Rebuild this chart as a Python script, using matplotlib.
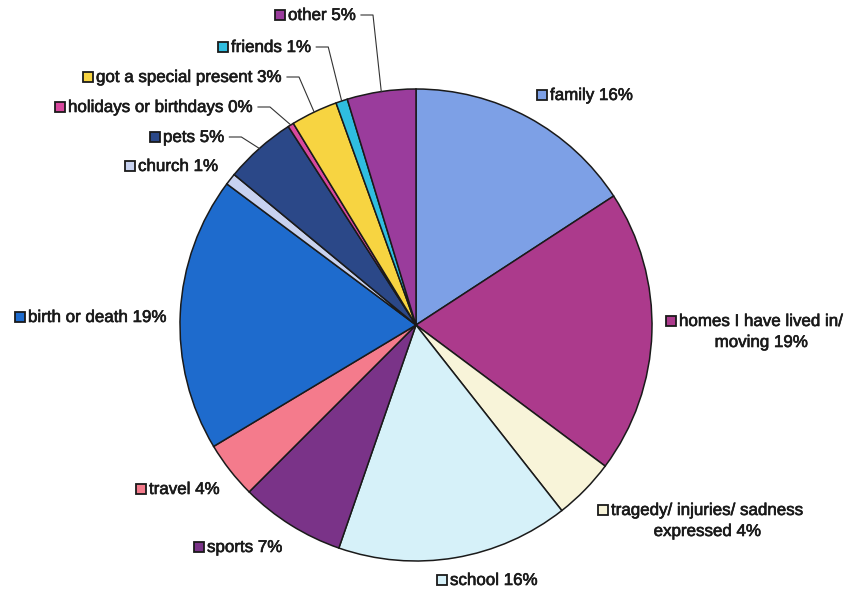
import numpy as np
import matplotlib
matplotlib.use('Agg')
import matplotlib.pyplot as plt
import matplotlib.patheffects as pe

# Topics of the stories, clockwise from 12 o'clock, share of answers in %
topics = ['family', 'homes I have lived in/\nmoving', 'tragedy/ injuries/ sadness\nexpressed',
          'school', 'sports', 'travel', 'birth or death', 'church', 'pets',
          'holidays or birthdays', 'got a special present', 'friends', 'other']
shares = [15.8, 19.4, 4.2, 15.9, 7.2, 3.9, 18.8, 0.8, 4.9, 0.4, 3.2, 0.8, 4.7]
colors = ['#7DA0E6', '#AC3A8C', '#F8F4D9', '#D6F1F9', '#7A3388', '#F47B8C', '#1E6BCD',
          '#C8D2F0', '#2B4888', '#D8489E', '#F7D441', '#2FBDE0', '#9A3C9C']

# where each label goes (pixels: left of key box, centre of first line)
label_px = [(538, 95), (667, 321), (599, 510), (438, 580), (195, 547), (137, 489),
            (16, 317), (126, 166), (151, 137), (56, 107), (84, 77), (219, 47), (276, 15)]
has_leader = [False] * 8 + [True] * 5

W, H = 849, 593
CX, CY, R = 416, 325, 236
LINE_GAP = 21


def px(x, y):
    # pixel position -> data units (pie radius = 1)
    return (x - CX) / R, (CY - y) / R


fig = plt.figure(figsize=(W / 100, H / 100), dpi=100)
ax = fig.add_axes([0, 0, 1, 1])

wedges, _ = ax.pie(shares, colors=colors, startangle=90, counterclock=False, radius=1,
                   wedgeprops=dict(edgecolor='#1a1a1a', linewidth=1.1))

# pie() sets its own limits, so fix the frame afterwards
ax.set_xlim(-CX / R, (W - CX) / R)
ax.set_ylim((CY - H) / R, CY / R)
ax.set_aspect('equal')
ax.axis('off')

font = dict(family=['Liberation Sans', 'DejaVu Sans'], size=12.2, color='#1a1a1a',
            path_effects=[pe.withStroke(linewidth=0.45, foreground='#1a1a1a')])
fig.canvas.draw()
renderer = fig.canvas.get_renderer()
inv = ax.transData.inverted()

for w, name, val, col, lead, (lx, ly) in zip(wedges, topics, shares, colors,
                                               has_leader, label_px):
    kx, ky = px(lx + 4, ly)
    ax.plot(kx, ky, marker='s', markersize=7, markerfacecolor=col,
            markeredgecolor='#1a1a1a', markeredgewidth=1.3, linestyle='none')

    lines = f'{name} {val:.0f}%'.split('\n')
    tx, ty = px(lx + 12, ly + 5)
    first = ax.text(tx, ty, lines[0], ha='left', va='baseline', **font)
    bb = first.get_window_extent(renderer)
    left = inv.transform((bb.x0, 0))[0]
    right = inv.transform((bb.x1, 0))[0]
    for i, extra in enumerate(lines[1:], start=1):
        ax.text((left + right) / 2, px(0, ly + 5 + i * LINE_GAP)[1], extra,
                ha='center', va='baseline', **font)

    # leader line from crowded labels to the middle of their slice
    if lead:
        x0 = right + 5 / R
        x1 = x0 + 12 / R
        y = px(0, ly)[1]
        mid = np.deg2rad((w.theta1 + w.theta2) / 2)
        ax.plot([x0, x1, np.cos(mid)], [y, y, np.sin(mid)],
                color='#333333', linewidth=0.8)

fig.savefig('out.png', dpi=100)
